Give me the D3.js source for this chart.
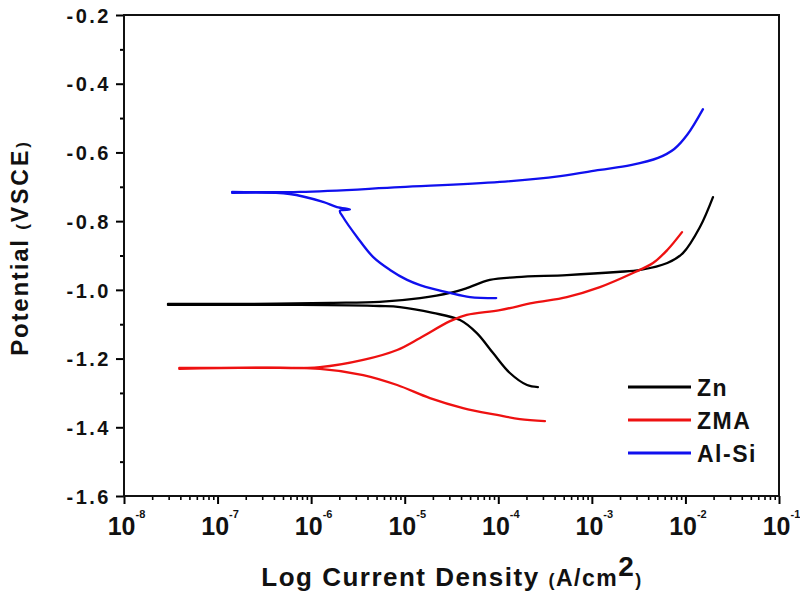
<!DOCTYPE html>
<html>
<head>
<meta charset="utf-8">
<script src="https://cdn.jsdelivr.net/npm/d3@7"></script>
<style>
  body { margin: 0; background: #fff; }
  svg { font-family: "Liberation Sans", Arial, sans-serif; font-weight: bold; }
</style>
</head>
<body>
<script>
// Tafel curves: [current density (A/cm2), potential (V)]
const znAnodic = [
  [2.95e-8, -1.041], [2.2e-7, -1.041], [1.6e-6, -1.038], [5.4e-6, -1.035], [1.46e-5, -1.024],
  [3.05e-5, -1.009], [4.6e-5, -0.995], [8.1e-5, -0.971], [1.58e-4, -0.963], [5.4e-4, -0.957],
  [1.86e-3, -0.948], [3.3e-3, -0.942], [6.4e-3, -0.922], [9.4e-3, -0.893], [1.43e-2, -0.817],
  [1.97e-2, -0.730]
];
const znCathodic = [
  [2.95e-8, -1.044], [7.6e-7, -1.044], [5.4e-6, -1.047], [8.9e-6, -1.050], [2.0e-5, -1.067],
  [3.9e-5, -1.088], [5.9e-5, -1.126], [8.8e-5, -1.184], [1.33e-4, -1.242], [2.03e-4, -1.277],
  [2.65e-4, -1.283]
];
const zmaAnodic = [
  [3.9e-8, -1.227], [2.84e-7, -1.227], [1.24e-6, -1.225], [3.6e-6, -1.204], [8.3e-6, -1.175],
  [1.46e-5, -1.140], [3.05e-5, -1.091], [4.6e-5, -1.073], [1.04e-4, -1.059], [2.35e-4, -1.038],
  [5.4e-4, -1.021], [1.22e-3, -0.992], [2.75e-3, -0.951], [4.5e-3, -0.922], [6.4e-3, -0.884],
  [9.2e-3, -0.832]
];
const zmaCathodic = [
  [3.9e-8, -1.230], [1.24e-6, -1.230], [3.6e-6, -1.248], [8.3e-6, -1.277], [1.86e-5, -1.315],
  [4.2e-5, -1.344], [9.7e-5, -1.364], [1.7e-4, -1.376], [3.15e-4, -1.382]
];
const alsiAnodic = [
  [1.43e-7, -0.715], [7.6e-7, -0.715], [8.9e-6, -0.701], [1.04e-4, -0.686], [4.6e-4, -0.669],
  [1.22e-3, -0.651], [2.6e-3, -0.637], [5.1e-3, -0.616], [7.6e-3, -0.590], [1.05e-2, -0.548],
  [1.54e-2, -0.474]
];
const alsiCathodic = [
  [1.43e-7, -0.718], [5.9e-7, -0.721], [1.34e-6, -0.744], [1.89e-6, -0.759], [2.6e-6, -0.766],
  [2.03e-6, -0.770], [2.19e-6, -0.788], [3.09e-6, -0.846], [4.58e-6, -0.904], [6.97e-6, -0.942],
  [1.06e-5, -0.971], [1.46e-5, -0.986], [3.05e-5, -1.009], [4.99e-5, -1.021], [9.5e-5, -1.024]
];

const seriesNames = ["Zn", "ZMA", "Al-Si"];
const seriesColors = ["#000000", "#ee1111", "#1010ee"];
const xTickExponents = [-8, -7, -6, -5, -4, -3, -2, -1];
const yTicks = [-0.2, -0.4, -0.6, -0.8, -1.0, -1.2, -1.4, -1.6];

const width = 800, height = 594;
const margin = { left: 124, right: 21, top: 15, bottom: 98 };
const innerW = width - margin.left - margin.right;
const innerH = height - margin.top - margin.bottom;

const svg = d3.select("body").append("svg").attr("width", width).attr("height", height);
const g = svg.append("g").attr("transform", `translate(${margin.left},${margin.top})`);

const x = d3.scaleLog().domain([1e-8, 1e-1]).range([0, innerW]);
const y = d3.scaleLinear().domain([-1.6, -0.2]).range([innerH, 0]);

// minor ticks
const xMinor = [];
for (let e = -8; e < -1; e++) for (let m = 2; m <= 9; m++) xMinor.push(m * 10 ** e);
const yMinor = d3.range(-1.5, -0.2, 0.2);

g.append("g").attr("transform", `translate(0,${innerH})`)
  .call(d3.axisBottom(x).tickValues(xMinor).tickSize(4).tickFormat(""))
  .call(a => a.select(".domain").remove())
  .selectAll("line").attr("stroke-width", 1.6);

const xAxis = g.append("g").attr("transform", `translate(0,${innerH})`)
  .call(d3.axisBottom(x).tickValues(xTickExponents.map(e => 10 ** e)).tickSize(8).tickFormat(""))
  .call(a => a.select(".domain").remove());
xAxis.selectAll("line").attr("stroke-width", 2);
xAxis.selectAll(".tick text").each(function (d) {
  const t = d3.select(this).attr("y", 39).attr("dy", null).attr("dx", 2).attr("fill", "#111")
    .style("font-size", "25px").attr("text-anchor", "middle");
  t.append("tspan").text("10");
  t.append("tspan").attr("dy", -17).style("font-size", "11px").text(Math.round(Math.log10(d)));
});

g.append("g")
  .call(d3.axisLeft(y).tickValues(yMinor).tickSize(4).tickFormat(""))
  .call(a => a.select(".domain").remove())
  .selectAll("line").attr("stroke-width", 2);

const yAxis = g.append("g")
  .call(d3.axisLeft(y).tickValues(yTicks).tickSize(8).tickPadding(5).tickFormat(d => d.toFixed(1)))
  .call(a => a.select(".domain").remove());
yAxis.selectAll("line").attr("stroke-width", 2);
yAxis.selectAll("text").style("font-size", "20px").style("letter-spacing", "2.5px")
  .attr("fill", "#111").attr("dy", "0.36em");

// frame
g.append("rect").attr("width", innerW).attr("height", innerH)
  .attr("fill", "none").attr("stroke", "#111").attr("stroke-width", 2);

// curves
const line = d3.line().x(d => x(d[0])).y(d => y(d[1])).curve(d3.curveCatmullRom.alpha(0.5));
const curves = [
  [znAnodic, 0], [znCathodic, 0], [zmaAnodic, 1], [zmaCathodic, 1], [alsiAnodic, 2], [alsiCathodic, 2]
];
curves.forEach(([data, i]) => {
  g.append("path").datum(data).attr("d", line)
    .attr("fill", "none").attr("stroke", seriesColors[i]).attr("stroke-width", 2.3)
    .attr("stroke-linejoin", "round").attr("stroke-linecap", "round");
});

// legend
const legend = svg.append("g").attr("transform", "translate(628,387)");
seriesNames.forEach((name, i) => {
  const row = legend.append("g").attr("transform", `translate(0,${i * 33})`);
  row.append("line").attr("x1", 0).attr("x2", 63).attr("stroke", seriesColors[i]).attr("stroke-width", 3);
  row.append("text").attr("x", 69).attr("y", 9).style("font-size", "23px").style("letter-spacing", "1.5px")
    .attr("fill", "#111").text(name);
});

// axis titles
const xt = svg.append("text").attr("x", 452).attr("y", 586).attr("text-anchor", "middle")
  .attr("fill", "#111").style("font-size", "26px").style("letter-spacing", "1.5px");
xt.append("tspan").text("Log Current Density ");
xt.append("tspan").style("font-size", "18px").text("(");
xt.append("tspan").style("font-size", "23px").text("A/cm");
xt.append("tspan").attr("dy", -10).style("font-size", "28px").text("2");
xt.append("tspan").attr("dy", 10).style("font-size", "18px").text(")");

const yt = svg.append("text").attr("transform", "translate(28,248) rotate(-90)").attr("text-anchor", "middle")
  .attr("fill", "#111").style("font-size", "24px").style("letter-spacing", "1.8px");
yt.append("tspan").text("Potential ");
yt.append("tspan").style("font-size", "17px").text("(");
yt.append("tspan").style("font-size", "23px").style("letter-spacing", "3px").text("VSCE");
yt.append("tspan").style("font-size", "17px").text(")");
</script>
</body>
</html>
